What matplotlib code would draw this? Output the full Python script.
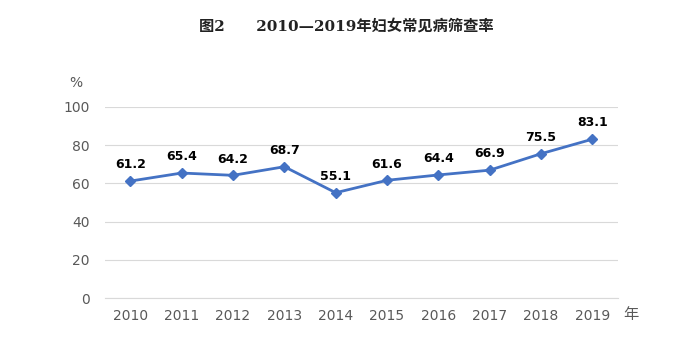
import matplotlib
matplotlib.use("Agg")
import matplotlib.pyplot as plt

plt.rcParams["font.family"] = ["DejaVu Sans", "Noto Sans CJK SC"]

years = ["2010", "2011", "2012", "2013", "2014", "2015", "2016", "2017", "2018", "2019"]
rates = [61.2, 65.4, 64.2, 68.7, 55.1, 61.6, 64.4, 66.9, 75.5, 83.1]
yticks = [0, 20, 40, 60, 80, 100]

fig = plt.figure(figsize=(6.89, 3.47), dpi=100)
ax = fig.add_axes([0.152, 0.141, 0.745, 0.551])

x = list(range(len(years)))
ax.plot(x, rates, color="#4472C4", lw=2, marker="D", ms=5.5, zorder=3)
for xi, v in zip(x, rates):
    ax.annotate(f"{v}", (xi, v), xytext=(0, 7), textcoords="offset points",
                ha="center", va="bottom", fontsize=9, fontweight="bold", color="black")

ax.set_xlim(-0.5, len(years) - 0.5)
ax.set_ylim(0, 100)
ax.set_yticks(yticks)
ax.set_xticks(x)
ax.set_xticklabels(years)
ax.grid(axis="y", color="#D9D9D9", lw=0.8)
ax.axhline(0, color="#D9D9D9", lw=0.8, clip_on=False, zorder=0.5)
ax.set_axisbelow(True)
for s in ax.spines.values():
    s.set_visible(False)
ax.tick_params(length=0, labelsize=10, labelcolor="#595959", pad=8)
ax.tick_params(axis="y", pad=11)

fig.text(0.11, 0.76, "%", fontsize=10, color="#595959", ha="center", va="center")
fig.text(0.915, 0.093, "年", fontsize=11, color="#595959", ha="center", va="center",
         family=["Noto Sans CJK SC"])
fig.text(0.503, 0.925, "图2      2010—2019年妇女常见病筛查率", fontsize=11, fontweight="bold",
         color="#222222", ha="center", va="center", family=["DejaVu Serif", "Noto Sans CJK SC"])

fig.savefig("out.png", dpi=100)
